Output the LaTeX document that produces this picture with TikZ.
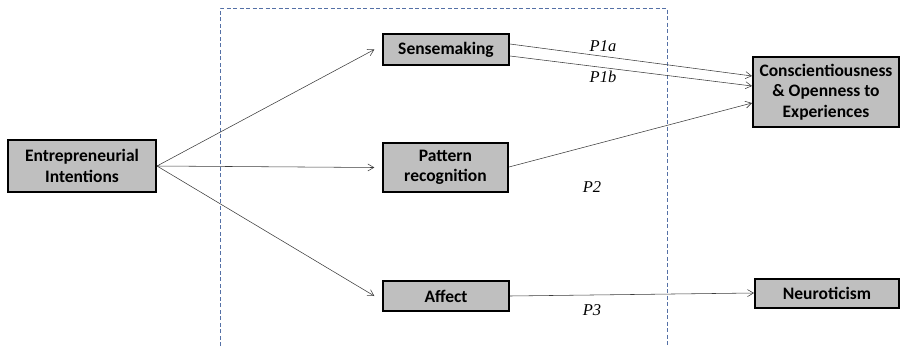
\documentclass[tikz,border=0pt]{standalone}
\usepackage{fontspec}
\setmainfont{Carlito}
\newfontfamily\labelfont{Liberation Serif}
\usetikzlibrary{arrows.meta}
\definecolor{boxgray}{RGB}{191,191,191}
\definecolor{frameblue}{RGB}{84,112,166}
\definecolor{linegray}{RGB}{60,60,60}
\tikzset{
  concept/.style={draw=black, line width=1.3pt, fill=boxgray, inner sep=0pt,
    font=\fontsize{17.5}{20.5}\selectfont\bfseries, align=center},
  link/.style={draw=linegray, line width=0.55pt, -{Straight Barb[length=6pt,width=7pt]}},
  plabel/.style={font=\labelfont\itshape\fontsize{16.5}{18}\selectfont},
}
\begin{document}
\begin{tikzpicture}[x=1pt,y=-1pt]
  \useasboundingbox (0,0) rectangle (903,346);
  % dashed frame around the mediating processes (open at the bottom)
  \draw[frameblue, line width=0.9pt, dash pattern=on 4pt off 2.5pt]
    (220,346) -- (220,8) -- (667,8) -- (667,346);
  % constructs
  \node[concept, minimum width=148pt, minimum height=52pt] (ei) at (82,166) {Entrepreneurial\\Intentions};
  \node[concept, minimum width=126pt, minimum height=31pt] (sm) at (446,49.5) {Sensemaking};
  \node[concept, minimum width=125pt, minimum height=49pt] (pr) at (445.5,167.5) {Pattern\\recognition};
  \node[concept, minimum width=126pt, minimum height=30pt] (af) at (446,296) {Affect};
  \node[concept, minimum width=146pt, minimum height=70pt] (co) at (826,92) {Conscientiousness\\\&~Openness to\\Experiences};
  \node[concept, minimum width=144pt, minimum height=29pt] (ne) at (827,293.5) {Neuroticism};
  % anchor points on the constructs
  \coordinate (eiR) at (157,166);
  \coordinate (smA) at (510,44);
  \coordinate (smB) at (510,56);
  \coordinate (coA) at (752,76);
  \coordinate (coB) at (752,86);
  \coordinate (coC) at (752,103);
  \coordinate (prR) at (509,167);
  \coordinate (afR) at (510,296);
  \coordinate (neL) at (754,293);
  % paths from intentions to the processes
  \draw[link] (eiR) -- ([xshift=-8pt]sm.west);
  \draw[link] (eiR) -- ([xshift=-8pt]pr.west);
  \draw[link] (eiR) -- ([xshift=-8pt]af.west);
  % propositions
  \draw[link] (smA) -- (coA);
  \draw[link] (smB) -- (coB);
  \draw[link] (prR) -- (coC);
  \draw[link] (afR) -- (neL);
  \node[plabel] (p1a) at (603,46) {P1a};
  \node[plabel] (p1b) at (603,77) {P1b};
  \node[plabel] (p2) at (592,187) {P2};
  \node[plabel] (p3) at (592,310) {P3};
\end{tikzpicture}
\end{document}
